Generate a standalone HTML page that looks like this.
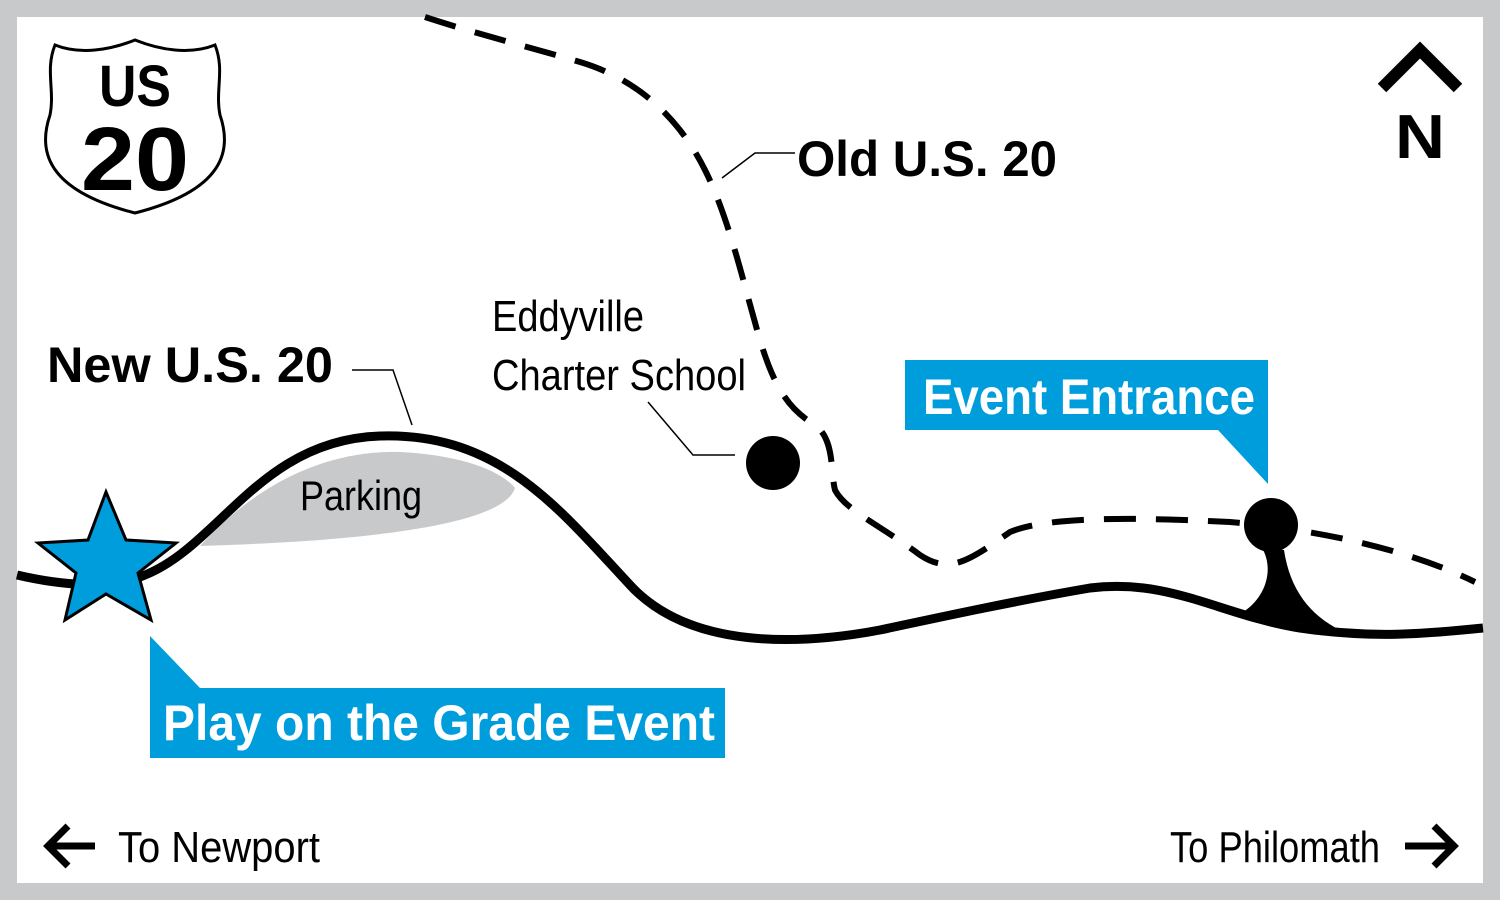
<!DOCTYPE html>
<html><head><style>
body{margin:0;width:1500px;height:900px;overflow:hidden;background:#c8c9cb;}
svg{display:block}
text{font-family:"Liberation Sans",sans-serif;}
</style></head><body>
<svg width="1500" height="900" viewBox="0 0 1500 900">
<rect x="0" y="0" width="1500" height="900" fill="#c8c9cb"/>
<rect x="17" y="17" width="1466" height="866" fill="#fff"/>
<!-- parking -->
<path d="M200,546 C260,480 330,450 400,452 C460,455 500,470 515,488 C505,520 400,540 200,546 Z" fill="#c8c9cb"/>
<!-- dashed old road -->
<path d="M425,17 C480,35 540,50 580,62 C640,80 680,120 705,170 C730,220 745,290 760,340 C775,390 790,410 815,425 C835,440 830,470 835,490 C845,510 880,525 920,555 C950,575 970,560 1010,532 C1050,515 1150,518 1230,522 C1300,528 1400,545 1475,582" fill="none" stroke="#000" stroke-width="6" stroke-dasharray="32,20"/>
<!-- main road -->
<path d="M17,575 C60,585 110,590 145,575 C220,545 260,440 380,436 C500,432 560,510 630,585 C690,650 800,645 880,630 C950,615 1020,600 1090,588 C1170,578 1220,615 1300,628 C1380,640 1440,632 1483,628" fill="none" stroke="#000" stroke-width="9"/>
<path d="M1262,548 C1275,570 1265,600 1240,614 L1340,630 C1310,615 1290,590 1284,550 Z" fill="#000"/>
<circle cx="1271" cy="525" r="27" fill="#000"/>
<circle cx="773" cy="463" r="27" fill="#000"/>
<!-- leader lines -->
<path d="M352,370 L393,370 L412,425" fill="none" stroke="#000" stroke-width="1.5"/>
<path d="M722,178 L755,153 L795,153" fill="none" stroke="#000" stroke-width="1.5"/>
<path d="M648,402 L693,455 L735,455" fill="none" stroke="#000" stroke-width="1.5"/>
<!-- star -->
<polygon points="106,492 126,540 176,543 138,573 151,620 106,594 65,620 76,573 38,543 88,540" fill="#009ddc" stroke="#000" stroke-width="3" stroke-linejoin="miter"/>
<!-- callouts -->
<polygon points="150,636 200,688 150,688" fill="#009ddc"/>
<rect x="150" y="688" width="575" height="70" fill="#009ddc"/>
<text x="163" y="740" font-size="50" font-weight="bold" fill="#fff" textLength="552" lengthAdjust="spacingAndGlyphs">Play on the Grade Event</text>
<rect x="905" y="360" width="363" height="70" fill="#009ddc"/>
<polygon points="1218,430 1268,430 1268,484" fill="#009ddc"/>
<text x="923" y="414" font-size="50" font-weight="bold" fill="#fff" textLength="332" lengthAdjust="spacingAndGlyphs">Event Entrance</text>
<!-- labels -->
<text x="47" y="382" font-size="50" font-weight="bold" textLength="286" lengthAdjust="spacingAndGlyphs">New U.S. 20</text>
<text x="797" y="176" font-size="50" font-weight="bold" textLength="260" lengthAdjust="spacingAndGlyphs">Old U.S. 20</text>
<text x="492" y="331" font-size="44" textLength="152" lengthAdjust="spacingAndGlyphs">Eddyville</text>
<text x="492" y="390" font-size="44" textLength="254" lengthAdjust="spacingAndGlyphs">Charter School</text>
<text x="300" y="510" font-size="42" textLength="122" lengthAdjust="spacingAndGlyphs">Parking</text>
<text x="118" y="862" font-size="44" textLength="202" lengthAdjust="spacingAndGlyphs">To Newport</text>
<text x="1170" y="862" font-size="44" textLength="210" lengthAdjust="spacingAndGlyphs">To Philomath</text>
<!-- arrows -->
<path d="M95,846 L50,846 M68,826 L48,846 L68,866" fill="none" stroke="#000" stroke-width="7"/>
<path d="M1405,846 L1452,846 M1434,826 L1454,846 L1434,866" fill="none" stroke="#000" stroke-width="7"/>
<!-- north -->
<path d="M1382,88 L1420,50 L1458,88" fill="none" stroke="#000" stroke-width="12"/>
<text x="1395" y="158" font-size="62" font-weight="bold" textLength="50" lengthAdjust="spacingAndGlyphs">N</text>
<!-- shield -->
<path d="M55,45 C80,55 110,50 135,40 C160,50 190,55 215,45 C225,70 215,90 220,115 C232,150 225,190 135,213 C45,190 38,150 50,115 C55,90 45,70 55,45 Z" fill="#fff" stroke="#000" stroke-width="3"/>
<text x="135" y="106" font-size="58" font-weight="bold" text-anchor="middle" textLength="72" lengthAdjust="spacingAndGlyphs">US</text>
<text x="135" y="190" font-size="90" font-weight="bold" text-anchor="middle" textLength="108" lengthAdjust="spacingAndGlyphs">20</text>
</svg>
</body></html>
